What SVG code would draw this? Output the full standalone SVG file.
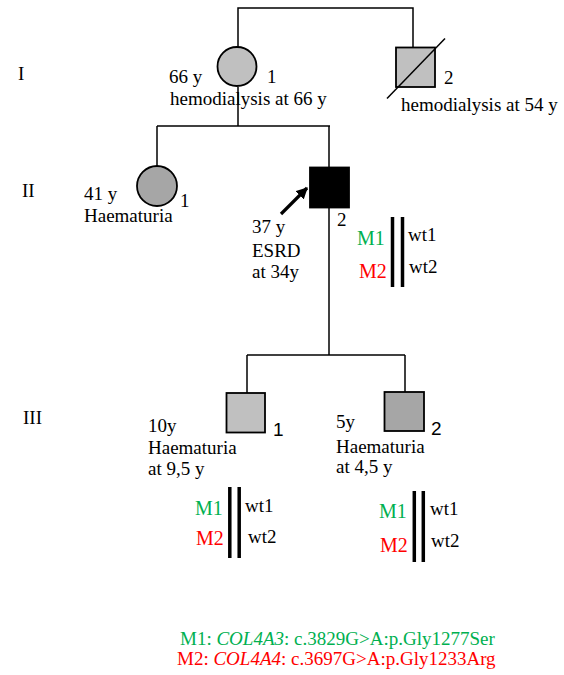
<svg xmlns="http://www.w3.org/2000/svg" width="564" height="675" viewBox="0 0 564 675">
<style>
.t{font-family:"Liberation Serif","Times New Roman",serif;font-size:19px;fill:#000}
.s{font-family:"Liberation Sans",Arial,sans-serif;font-size:19px;fill:#000}
.m{font-size:20px}
.g{fill:#00b050}
.r{fill:#ff0000}
.ln{fill:none;stroke:#000;stroke-width:1.5}
.nd{stroke:#000;stroke-width:1.8}
.light{fill:#c0c0c0}
.dark{fill:#a6a6a6}
.bar{stroke:#000;stroke-width:3.5}
</style>
<defs>
<marker id="ah" viewBox="0 0 10 10" refX="9" refY="5" markerWidth="3.6" markerHeight="3.6" orient="auto">
<path d="M0,0 L10,5 L0,10 z" fill="#000"/>
</marker>
</defs>
<rect width="564" height="675" fill="#fff"/>
<g id="generations">
<text class="t" x="18" y="80">I</text>
<text class="t" x="22" y="197">II</text>
<text class="t" x="23" y="424">III</text>
</g>
<g id="connectors">
<path class="ln" d="M238,47 V8 H413 V47"/>
<path class="ln" d="M238,87 V126"/>
<path class="ln" d="M157,126 H330"/>
<path class="ln" d="M157,126 V166"/>
<path class="ln" d="M329,126 V167"/>
<path class="ln" d="M329,208 V355"/>
<path class="ln" d="M247,355 H405"/>
<path class="ln" d="M247,355 V393"/>
<path class="ln" d="M405,355 V392"/>
</g>
<g id="I-1">
<circle class="nd light" cx="237" cy="66.5" r="19.5"/>
<text class="t" x="169" y="83">66 y</text>
<text class="t" x="267" y="83">1</text>
<text class="t" x="170" y="105">hemodialysis at 66 y</text>
</g>
<g id="I-2">
<rect class="nd light" x="396" y="47.5" width="39" height="39.5"/>
<line x1="387" y1="98.5" x2="445" y2="38.5" stroke="#000" stroke-width="1.5"/>
<text class="t" x="444" y="84">2</text>
<text class="t" x="401" y="111">hemodialysis at 54 y</text>
</g>
<g id="II-1">
<circle class="nd dark" cx="157" cy="186" r="20"/>
<text class="t" x="84" y="200">41 y</text>
<text class="t" x="180" y="207">1</text>
<text class="t" x="84" y="222">Haematuria</text>
</g>
<g id="II-2">
<rect class="nd" x="310" y="167.5" width="39" height="40" fill="#000"/>
<line x1="281" y1="214" x2="307" y2="188" stroke="#000" stroke-width="3.2" marker-end="url(#ah)"/>
<text class="t" x="337" y="226">2</text>
<text class="t" x="252" y="233">37 y</text>
<text class="t" x="252" y="257">ESRD</text>
<text class="t" x="252" y="278">at 34y</text>
<line class="bar" x1="392.5" y1="217" x2="392.5" y2="287"/>
<line class="bar" x1="402.5" y1="217" x2="402.5" y2="287"/>
<text class="t m g" x="357" y="245">M1</text>
<text class="t m r" x="359" y="278">M2</text>
<text class="t" x="408" y="241">wt1</text>
<text class="t" x="409" y="273">wt2</text>
</g>
<g id="III-1">
<rect class="nd light" x="226.5" y="393" width="38.5" height="39.5"/>
<text class="s" x="273" y="436">1</text>
<text class="t" x="148" y="432">10y</text>
<text class="t" x="148" y="454">Haematuria</text>
<text class="t" x="148" y="475">at 9,5 y</text>
<line class="bar" x1="229.8" y1="487" x2="229.8" y2="558"/>
<line class="bar" x1="239.2" y1="487" x2="239.2" y2="558"/>
<text class="t m g" x="195" y="515">M1</text>
<text class="t m r" x="196" y="545">M2</text>
<text class="t" x="245" y="512">wt1</text>
<text class="t" x="248" y="543">wt2</text>
</g>
<g id="III-2">
<rect class="nd dark" x="384.5" y="392" width="39.5" height="39"/>
<text class="s" x="431" y="435">2</text>
<text class="t" x="336" y="428">5y</text>
<text class="t" x="336" y="453">Haematuria</text>
<text class="t" x="336" y="473">at 4,5 y</text>
<line class="bar" x1="414.3" y1="491" x2="414.3" y2="562"/>
<line class="bar" x1="423.3" y1="491" x2="423.3" y2="562"/>
<text class="t m g" x="379" y="518">M1</text>
<text class="t m r" x="380" y="552">M2</text>
<text class="t" x="430" y="515">wt1</text>
<text class="t" x="431" y="547">wt2</text>
</g>
<g id="legend">
<text class="t g" x="180" y="645">M1: <tspan font-style="italic">COL4A3</tspan>: c.3829G&gt;A:p.Gly1277Ser</text>
<text class="t r" x="177" y="665">M2: <tspan font-style="italic">COL4A4</tspan>: c.3697G&gt;A:p.Gly1233Arg</text>
</g>
</svg>
